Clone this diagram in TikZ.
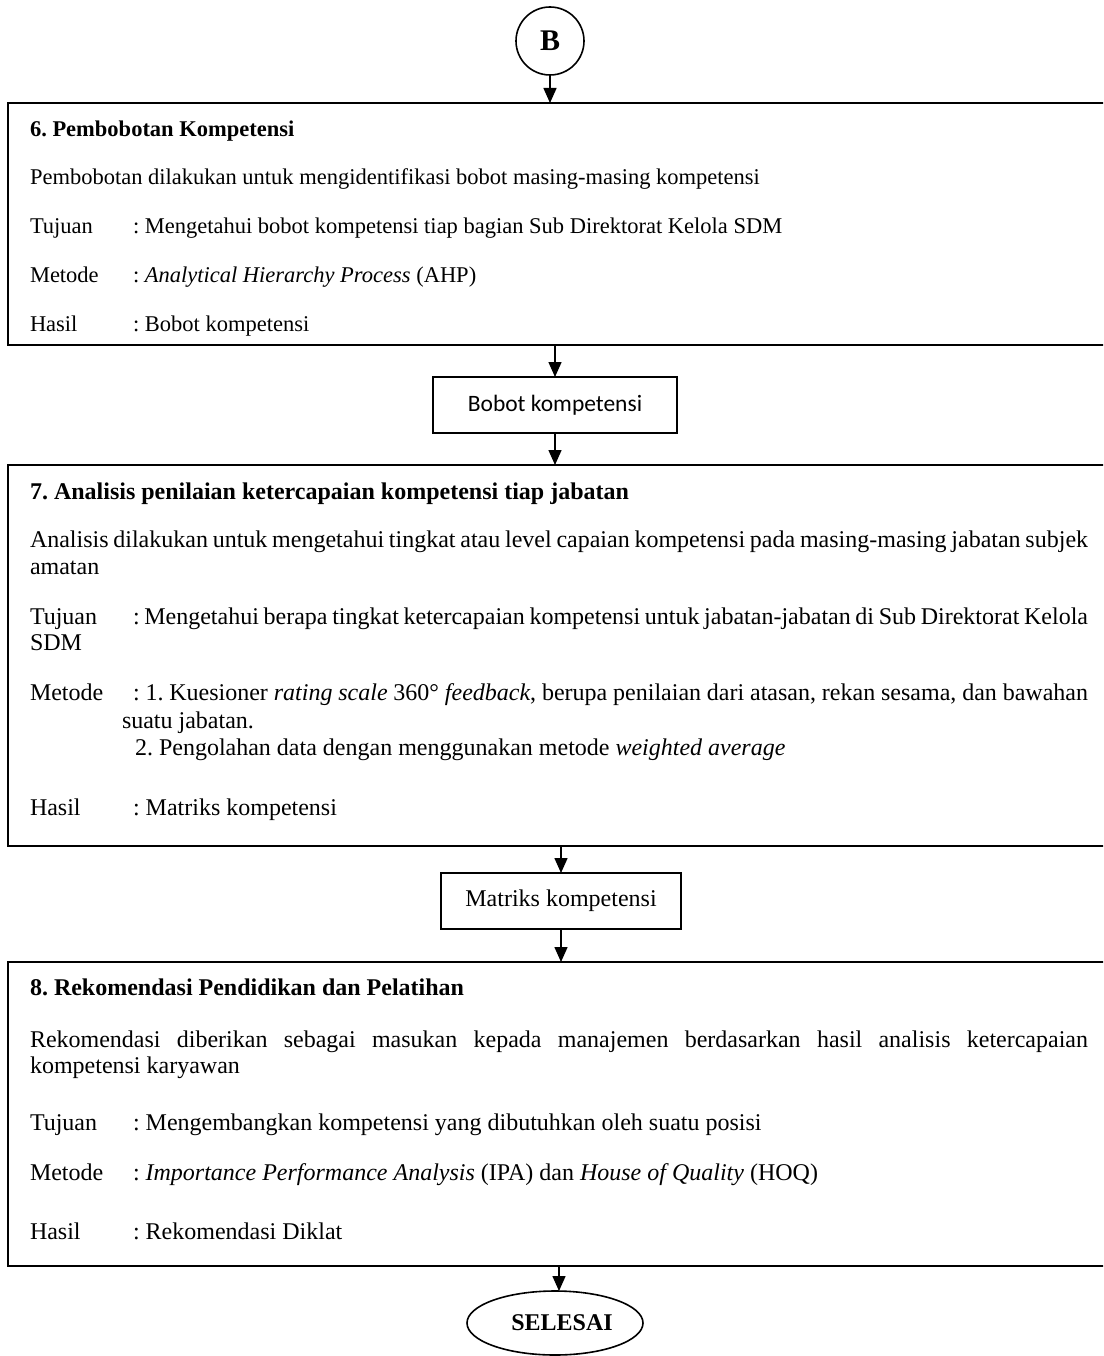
\documentclass[tikz,border=0pt]{standalone}
\usepackage{fontspec}
\setmainfont{Liberation Serif}
\newfontfamily\calibrifont{Carlito}
\usetikzlibrary{arrows.meta,shapes.geometric}
\frenchspacing

\begin{document}
\begin{tikzpicture}[x=1pt,y=-1pt,
  every node/.style={inner sep=0pt, outer sep=0pt},
  bodyA/.style={anchor=base west, font=\fontsize{22.5}{27}\selectfont},
  headA/.style={anchor=base west, font=\fontsize{22.5}{27}\selectfont\bfseries},
  body/.style={anchor=base west, font=\fontsize{24}{27}\selectfont},
  head/.style={anchor=base west, font=\fontsize{24}{27}\selectfont\bfseries},
  panel/.style={draw, line width=2pt, anchor=north west, minimum width=1110pt},
  midbox/.style={draw, line width=1.8pt, minimum width=#1, minimum height=56pt},
  midbox/.default=240pt,
  flow/.style={line width=1.5pt, -{Triangle[length=15pt,width=13pt]}},
]
\clip (0,0) rectangle (1103,1356);

% start connector
\node[circle, draw, line width=1.6pt, minimum size=68pt,
      font=\fontsize{30}{32}\selectfont\bfseries] (conB) at (550,41) {B};

% ---- step 6 ----
\node[panel, minimum height=242pt] (step6) at (8,103) {};
\node[headA] (s6title) at (30,137) {6. Pembobotan Kompetensi};
\node[bodyA] (s6desc) at (30,185) {Pembobotan dilakukan untuk mengidentifikasi bobot masing-masing kompetensi};
\node[bodyA] (s6tl) at (30,234) {Tujuan};
\node[bodyA] (s6tv) at (133,234) {: Mengetahui bobot kompetensi tiap bagian Sub Direktorat Kelola SDM};
\node[bodyA] (s6ml) at (30,282) {Metode};
\node[bodyA] (s6mv) at (133,282) {: \textit{Analytical Hierarchy Process} (AHP)};
\node[bodyA] (s6hl) at (30,331) {Hasil};
\node[bodyA] (s6hv) at (133,331) {: Bobot kompetensi};

% intermediate output 1
\node[midbox=244pt, font=\calibrifont\fontsize{23.5}{27}\selectfont] (bobot) at (555,405) {Bobot kompetensi};

% ---- step 7 ----
\node[panel, minimum height=381pt] (step7) at (8,465) {};
\node[head] (s7title) at (30,499) {7. Analisis penilaian ketercapaian kompetensi tiap jabatan};
\node[body] (s7d1) at (30,547) {\makebox[1058pt][s]{Analisis dilakukan untuk mengetahui tingkat atau level capaian kompetensi pada masing-masing jabatan subjek}};
\node[body] (s7d2) at (30,574) {amatan};
\node[body] (s7tl) at (30,624) {Tujuan};
\node[body] (s7tv) at (133,624) {\makebox[955pt][s]{: Mengetahui berapa tingkat ketercapaian kompetensi untuk jabatan-jabatan di Sub Direktorat Kelola}};
\node[body] (s7t2) at (30,650) {SDM};
\node[body] (s7ml) at (30,700) {Metode};
\node[body] (s7m1) at (133,700) {\makebox[955pt][s]{: 1. Kuesioner \textit{rating scale} 360° \textit{feedback}, berupa penilaian dari atasan, rekan sesama, dan bawahan}};
\node[body] (s7m2) at (122,728) {suatu jabatan.};
\node[body] (s7m3) at (135,755) {2. Pengolahan data dengan menggunakan metode \textit{weighted average}};
\node[body] (s7hl) at (30,815) {Hasil};
\node[body] (s7hv) at (133,815) {: Matriks kompetensi};

% intermediate output 2
\node[midbox=240pt, font=\fontsize{24}{27}\selectfont] (matriks) at (561,901) {Matriks kompetensi};

% ---- step 8 ----
\node[panel, minimum height=304pt] (step8) at (8,962) {};
\node[head] (s8title) at (30,995) {8. Rekomendasi Pendidikan dan Pelatihan};
\node[body] (s8d1) at (30,1047) {\makebox[1058pt][s]{Rekomendasi diberikan sebagai masukan kepada manajemen berdasarkan hasil analisis ketercapaian}};
\node[body] (s8d2) at (30,1073) {kompetensi karyawan};
\node[body] (s8tl) at (30,1130) {Tujuan};
\node[body] (s8tv) at (133,1130) {: Mengembangkan kompetensi yang dibutuhkan oleh suatu posisi};
\node[body] (s8ml) at (30,1180) {Metode};
\node[body] (s8mv) at (133,1180) {: \textit{Importance Performance Analysis} (IPA) dan \textit{House of Quality} (HOQ)};
\node[body] (s8hl) at (30,1239) {Hasil};
\node[body] (s8hv) at (133,1239) {: Rekomendasi Diklat};

% end terminator
\node[ellipse, draw, line width=1.6pt, minimum width=176pt, minimum height=64pt,
      font=\fontsize{24}{28}\selectfont\bfseries] (finish) at (555,1323) {\hspace*{14pt}SELESAI};

% connectors
\draw[flow] (conB.south) -- (conB.south |- step6.north);
\draw[flow] (bobot.north |- step6.south) -- (bobot.north);
\draw[flow] (bobot.south) -- (bobot.south |- step7.north);
\draw[flow] (matriks.north |- step7.south) -- (matriks.north);
\draw[flow] (matriks.south) -- (matriks.south |- step8.north);
\draw[flow] ([xshift=4pt]finish.north |- step8.south) -- ([xshift=4pt]finish.north);
\end{tikzpicture}
\end{document}
